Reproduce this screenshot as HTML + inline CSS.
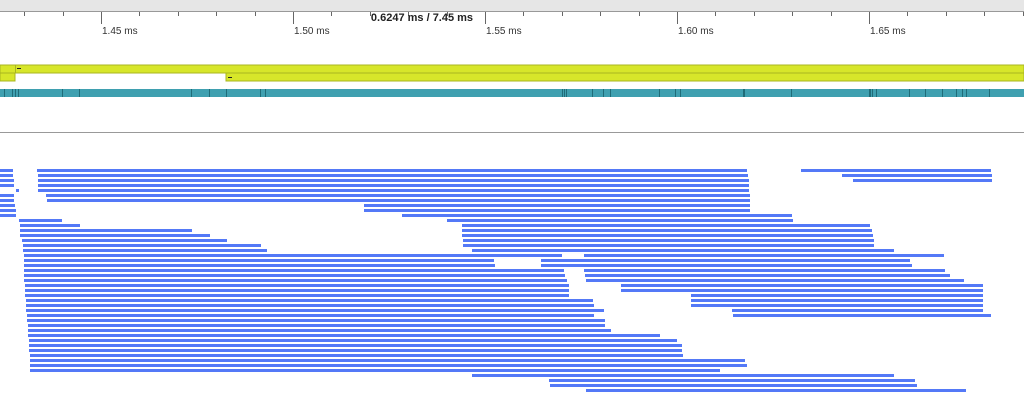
<!DOCTYPE html>
<html><head><meta charset="utf-8"><style>
body{margin:0;width:1024px;height:414px;overflow:hidden;background:#fff;font-family:"Liberation Sans",sans-serif}
svg{display:block}
</style></head><body>
<svg id="c" width="1024" height="414">
<rect x="0" y="0" width="1024" height="11" fill="#e6e6e6"/>
<line x1="0" y1="11.5" x2="1024" y2="11.5" stroke="#999"/>
<g id="axis"></g>
<text x="422" y="21" text-anchor="middle" font-size="11" font-weight="bold" fill="#222">0.6247 ms / 7.45 ms</text>
<g>
<rect x="0" y="65" width="1024" height="8" fill="#d7e62a" stroke="#a8b520" stroke-width="1"/>
<line x1="15.5" y1="65" x2="15.5" y2="73" stroke="#a8b520"/>
<rect x="0" y="73" width="15" height="8" fill="#d7e62a" stroke="#a8b520" stroke-width="1"/>
<rect x="226" y="73" width="798" height="8" fill="#d7e62a" stroke="#a8b520" stroke-width="1"/>
<line x1="17" y1="68.5" x2="21" y2="68.5" stroke="#222"/>
<line x1="228" y1="77.5" x2="232" y2="77.5" stroke="#222"/>
</g>
<rect x="0" y="89" width="1024" height="8" fill="#3fa0b0"/>
<g id="marks"></g>
<line x1="0" y1="132.5" x2="1024" y2="132.5" stroke="#999"/>
<g id="bars"></g>
</svg>
<script>
const tickLabels=["1.45 ms","1.50 ms","1.55 ms","1.60 ms","1.65 ms"];
const tickMs=[1.45,1.50,1.55,1.60,1.65];
const viewStartUs=1423.7;
const rowIdx=[0,0,0,1,1,1,2,2,2,3,3,4,4,5,5,6,6,7,7,8,8,9,9,10,10,11,11,12,12,13,13,14,14,15,15,16,16,17,17,18,18,19,19,20,20,21,21,22,22,23,23,24,24,25,25,26,26,27,27,28,28,29,29,30,31,32,33,34,35,36,37,38,39,40,41,42,43,44];
const startUs=[0,9.6,208.6,0,9.9,219.3,0,9.9,222.1,0,9.9,4.2,9.9,0,12.0,0,12.2,0,94.8,0,94.8,0,104.7,4.9,116.4,5.2,120.3,5.2,120.3,5.2,120.3,5.7,120.6,6.0,120.6,6.0,122.9,6.25,152.1,6.25,140.9,6.25,140.9,6.25,152.1,6.25,152.3,6.25,152.6,6.5,161.7,6.5,161.7,6.5,179.9,6.8,179.9,6.8,179.9,6.8,190.6,7.0,190.9,7.0,7.3,7.3,7.3,7.6,7.6,7.6,7.8,7.8,7.8,7.8,122.9,143.0,143.2,152.6];
const endUs=[3.4,194.5,258.1,3.4,194.8,258.3,3.6,195.1,258.3,3.6,195.1,4.9,195.1,3.6,195.3,3.6,195.3,3.9,195.3,4.2,195.3,4.2,206.25,16.1,206.5,20.8,226.6,50.0,227.1,54.7,227.3,59.1,227.6,68.0,227.6,69.5,232.8,146.4,245.8,128.6,237.0,128.9,237.5,146.9,246.1,147.1,247.4,147.7,251.0,148.2,256.0,148.2,256.0,148.2,256.0,154.4,256.0,154.7,256.0,157.3,256.0,154.7,258.1,157.6,157.6,159.1,171.9,176.3,177.6,177.6,177.9,194.0,194.5,187.5,232.8,238.3,238.8,251.6];
const eventUs=[1,3.1,3.9,4.7,16.1,20.6,49.7,54.4,58.9,67.7,69.0,146.4,146.9,147.4,154.2,157.0,158.9,171.6,175.8,177.1,193.6,193.8,206.0,226.3,226.6,227.1,228.1,236.7,240.9,245.3,248.9,250.5,251.6,257.6];
const NS="http://www.w3.org/2000/svg";
const pxPerUs=3.84;
function x(us){return us*pxPerUs;}
function xMs(ms){return x(ms*1000-viewStartUs);}
function rowY(r){return 169+r*5;}
const axis=document.getElementById('axis');
for(let k=-3;k<30;k++){
  const xx=Math.round(xMs(1.45+k*0.01))+0.5;
  if(xx<0||xx>1024)continue;
  const major=(k%5===0);
  const l=document.createElementNS(NS,'line');
  
  
  l.setAttribute('x1',xx);l.setAttribute('x2',xx);l.setAttribute('y1',12);l.setAttribute('y2',major?24:16);
  l.setAttribute('stroke','#666');
  axis.appendChild(l);
}
tickMs.forEach((m,i)=>{
  const t=document.createElementNS(NS,'text');
  
  
  t.setAttribute('x',Math.round(xMs(m))+1);t.setAttribute('y',34);
  t.setAttribute('font-size','10');t.setAttribute('fill','#333');
  t.textContent=tickLabels[i];
  axis.appendChild(t);
});
const marks=document.getElementById('marks');
eventUs.forEach(u=>{
  const r=document.createElementNS(NS,'rect');
  
  
  r.setAttribute('x',Math.round(x(u)));r.setAttribute('y',89);r.setAttribute('width',1);r.setAttribute('height',8);
  r.setAttribute('fill','#1f6c78');
  marks.appendChild(r);
});
const bars=document.getElementById('bars');
rowIdx.forEach((r,i)=>{
  const b=document.createElementNS(NS,'rect');
  
  
  const x0=Math.round(x(startUs[i])),x1=Math.round(x(endUs[i]));
  b.setAttribute('x',x0);b.setAttribute('y',rowY(r));
  b.setAttribute('width',Math.max(1,x1-x0));b.setAttribute('height',3);
  b.setAttribute('fill','#5479f7');
  bars.appendChild(b);
});
</script>
</body></html>
